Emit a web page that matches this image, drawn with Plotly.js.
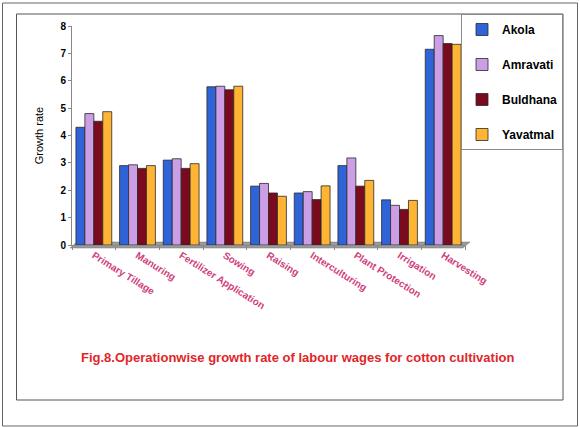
<!DOCTYPE html>
<html>
<head>
<meta charset="utf-8">
<script src="https://cdn.plot.ly/plotly-3.0.1.min.js"></script>
<style>
html,body{margin:0;padding:0;background:#fff;}
#chart{width:580px;height:427px;}
</style>
</head>
<body>
<div id="chart"></div>
<script>
const categories = ["Primary Tillage","Manuring","Fertilizer Application","Sowing","Raising","Interculturing","Plant Protection","Irrigation","Harvesting"];
const akola    = [4.3, 2.9, 3.1, 5.78, 2.15, 1.9, 2.9, 1.65, 7.15];
const amravati = [4.8, 2.93, 3.15, 5.8, 2.25, 1.95, 3.18, 1.45, 7.65];
const buldhana = [4.52, 2.8, 2.8, 5.67, 1.9, 1.66, 2.15, 1.3, 7.36];
const yavatmal = [4.87, 2.9, 2.97, 5.8, 1.78, 2.16, 2.36, 1.63, 7.33];
const seriesNames = ["Akola","Amravati","Buldhana","Yavatmal"];
const seriesColors = ["#2f63d8","#cc9ee6","#7a0a1e","#ffb533"];

const allData = [akola, amravati, buldhana, yavatmal];
const traces = allData.map((vals, i) => ({
  type: "bar",
  name: seriesNames[i],
  x: categories,
  y: vals,
  legendgroup: "g" + i,
  marker: {color: seriesColors[i], line: {color: "#2a2a2a", width: 0.8}},
  hoverinfo: "x+y+name"
}));

// pixel helpers for frame shapes (plot area 72..465 x, 26..245 y)
const L = 72, R = 465, T = 26, B = 245;
const px = v => (v - L) / (R - L);
const py = v => (B - v) / (B - T);

const floorPath = "M " + px(70) + " " + py(248) + " L " + px(77) + " " + py(242) +
  " L " + px(470) + " " + py(242) + " L " + px(463) + " " + py(248) + " Z";

const layout = {
  width: 580, height: 427,
  margin: {l: L, r: 580 - R, t: T, b: 427 - B, pad: 0},
  paper_bgcolor: "#ffffff",
  plot_bgcolor: "rgba(0,0,0,0)",
  barmode: "group",
  bargap: 0.18,
  bargroupgap: 0,
  font: {family: "Arial, Liberation Sans, sans-serif", color: "#000"},
  xaxis: {
    type: "category",
    showgrid: false,
    showline: true, linecolor: "#888", linewidth: 1,
    ticks: "outside", ticklen: 4, tickcolor: "#888",
    tickson: "boundaries",
    tickangle: 32,
    tickfont: {family: "Arial, Liberation Sans, sans-serif", size: 10, color: "#d0407a", weight: "bold"},
    automargin: false
  },
  yaxis: {
    range: [0, 8],
    dtick: 1,
    showgrid: false,
    zeroline: false,
    showline: true, linecolor: "#888", linewidth: 1,
    ticks: "outside", ticklen: 3, tickcolor: "#888",
    tickfont: {family: "Arial, Liberation Sans, sans-serif", size: 10, color: "#000", weight: "bold"},
    title: {text: "Growth rate", font: {family: "Arial, Liberation Sans, sans-serif", size: 11, color: "#000"}, standoff: 14},
    automargin: false
  },
  legend: {
    x: px(563), xanchor: "right",
    y: py(14), yanchor: "top",
    bordercolor: "#8a8a8a", borderwidth: 1,
    bgcolor: "#ffffff",
    font: {family: "Arial, Liberation Sans, sans-serif", size: 12, color: "#000", weight: "bold"},
    tracegroupgap: 16,
    itemwidth: 30
  },
  annotations: [{
    text: "Fig.8.Operationwise growth rate of labour wages for cotton cultivation",
    xref: "paper", yref: "paper",
    x: px(297), y: py(357),
    xanchor: "center", yanchor: "middle",
    showarrow: false,
    font: {family: "Arial, Liberation Sans, sans-serif", size: 13, color: "#e0262a", weight: "bold"}
  }],
  shapes: [
    {type: "path", xref: "paper", yref: "paper", path: floorPath,
     line: {color: "#777", width: 0.5}, fillcolor: "#9a9a9a", layer: "below"},
    {type: "rect", xref: "paper", yref: "paper", x0: px(16.5), x1: px(563), y0: py(400), y1: py(14),
     line: {color: "#555", width: 1}, fillcolor: "rgba(0,0,0,0)", layer: "below"},
    {type: "rect", xref: "paper", yref: "paper", x0: px(2.5), x1: px(577.5), y0: py(426), y1: py(3),
     line: {color: "#666", width: 1}, fillcolor: "rgba(0,0,0,0)", layer: "below"}
  ]
};

Plotly.newPlot("chart", traces, layout, {displayModeBar: false, staticPlot: true});
</script>
</body>
</html>
